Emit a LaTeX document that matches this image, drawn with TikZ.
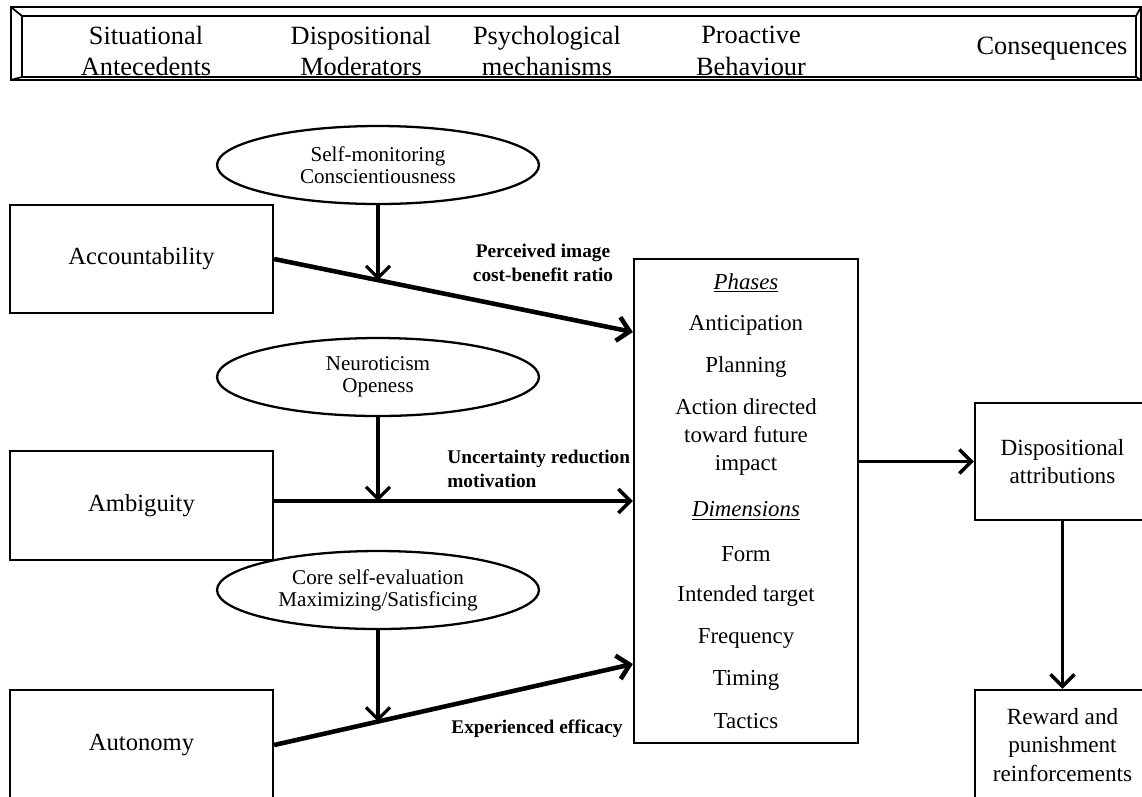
\documentclass[tikz,border=0pt]{standalone}
\usepackage{fontspec}
\setmainfont{Liberation Serif}
\usepackage{tikz}
\usetikzlibrary{arrows.meta}
\usetikzlibrary{shapes.geometric}
\tikzset{
sbox/.style={
  draw,
  line width=1.3pt,
  inner sep=0pt,
  align=center,
  font=\fontsize{14}{16.5}\selectfont
},
rbox/.style={sbox, font=\fontsize{13.2}{16.3}\selectfont},
mods/.style={
  draw,
  ellipse,
  line width=1.3pt,
  inner sep=0pt,
  minimum width=6.44cm,
  minimum height=1.56cm,
  align=center,
  font=\fontsize{12}{12.5}\selectfont
},
hdr/.style={align=center, inner sep=0pt, font=\fontsize{15}{18}\selectfont},
cbitem/.style={align=center, inner sep=0pt, font=\fontsize{13}{16.2}\selectfont},
lbl/.style={inner sep=0pt, font=\bfseries\fontsize{11}{14}\selectfont},
arr/.style={-{Straight Barb[length=2.4mm,width=4.8mm]}, line width=2pt},
modarr/.style={arr, line width=1.8pt},
%mainarr/.style={arr, line width=2.6pt},
}

\begin{document}
\begin{tikzpicture}[x=0.02cm,y=-0.02cm]
\clip (0,0) rectangle (1142,796);
% the header frame
\draw[line width=1pt] (11,7) rectangle (1141,80);
\draw[line width=1.4pt] (22,16) rectangle (1136,77);
\draw[line width=1pt] (11,7) -- (22,16) (1141,7) -- (1136,16)
  (11,80) -- (22,77) (1141,80) -- (1136,77);
\foreach \hx/\htxt [count=\i] in {146/{Situational\\Antecedents},
  361/{Dispositional\\Moderators}, 547/{Psychological\\mechanisms},
  751/{Proactive\\Behaviour}}
  \node[hdr] (h-\i) at (\hx,51) {\htxt};
\node[hdr] (h-5) at (1052,49) {Consequences};

% the moderators
\node[mods] (e1) at (378,165) {Self-monitoring\\Conscientiousness};
\node[mods] (e2) at (378,377) {Neuroticism\\Openess};
\node[mods] (e3) at (378,590) {Core self-evaluation\\Maximizing/Satisficing};

% the boxes
\node[sbox, minimum width=5.26cm, minimum height=2.16cm] (acc) at (141.5,259) {Accountability};
\node[sbox, minimum width=5.26cm, minimum height=2.18cm] (amb) at (141.5,505.5) {Ambiguity};
\node[sbox, minimum width=5.26cm, minimum height=2.2cm] (aut) at (141.5,745) {Autonomy};
\node[sbox, minimum width=4.48cm, minimum height=9.68cm] (cb) at (746,501) {};
\node[rbox, minimum width=3.5cm, minimum height=2.34cm] (disp) at (1062.5,461.5) {Dispositional\\attributions};
\node[rbox, minimum width=3.5cm, minimum height=2.2cm] (rew) at (1062.5,745) {Reward and\\punishment\\reinforcements};

% the behaviour list
\foreach \itm/\yy [count=\i] in {{\underline{\textit{Phases}}}/283, Anticipation/325,
  Planning/367, {Action directed\\toward future\\impact}/437,
  {\underline{\textit{Dimensions}}}/511, Form/554, {Intended target}/596,
  Frequency/638, Timing/680, Tactics/721}
  \node[cbitem] (it-\i) at (746,\yy) {\itm};

% the arrows
\coordinate (in1) at ([yshift=3.38cm]cb.west);
\coordinate (in3) at ([yshift=-3.26cm]cb.west);
\draw[arr, line width=2.6pt] (acc.east) -- coordinate[pos=0.29] (m1) (in1);
\draw[arr] (cb.west -| amb.east) -- (cb.west);
\draw[arr, line width=2.6pt] (aut.east) -- coordinate[pos=0.29] (m3) (in3);
\draw[modarr] (e1.south) -- (e1.south |- m1);
\draw[modarr] (e2.south) -- (e2.south |- cb.west);
\draw[modarr] (e3.south) -- (e3.south |- m3);
\draw[arr] (cb.east |- disp.west) -- (disp.west);
\draw[arr] (disp.south) -- (rew.north);

% the mechanisms
\node[lbl, align=center] (l1) at (543,263) {Perceived image\\cost-benefit ratio};
\node[lbl, align=left, anchor=west] (l2) at (447,469) {Uncertainty reduction\\motivation};
\node[lbl] (l3) at (537,729) {Experienced efficacy};

\end{tikzpicture}
\end{document}
